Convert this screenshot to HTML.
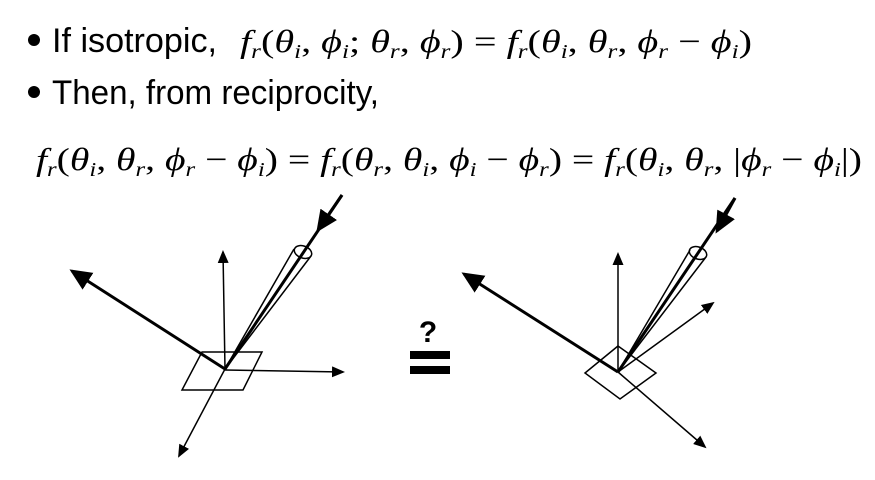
<!DOCTYPE html>
<html><head><meta charset="utf-8"><style>
html,body{margin:0;padding:0;background:#fff;width:875px;height:480px;overflow:hidden}
svg{display:block}
.t{font-family:"Liberation Sans",sans-serif;font-size:34px;fill:#000}
.m{font-family:"Liberation Serif",serif;font-style:italic;font-size:32px;fill:#000}
.u{font-style:normal}
.s{font-size:20px}
</style></head><body>
<svg width="875" height="480" viewBox="0 0 875 480">
<defs>
<marker id="ah" markerWidth="13" markerHeight="11" refX="11" refY="5.5" orient="auto" markerUnits="userSpaceOnUse"><path d="M0,0 L13,5.5 L0,11 z" fill="#000"/></marker>
<marker id="ahb" markerWidth="22" markerHeight="20" refX="19" refY="10" orient="auto" markerUnits="userSpaceOnUse"><path d="M0,0 L22,10 L0,20 z" fill="#000"/></marker>
</defs>
<circle cx="34" cy="40" r="6" fill="#000"/>
<text class="t" x="52" y="52" textLength="165" lengthAdjust="spacingAndGlyphs">If isotropic,</text>
<text class="m" x="240" y="52" textLength="512" lengthAdjust="spacingAndGlyphs">f<tspan class="s" dy="6">r</tspan><tspan class="u" dy="-6">(</tspan>θ<tspan class="s" dy="6">i</tspan><tspan class="u" dy="-6">, </tspan>ϕ<tspan class="s" dy="6">i</tspan><tspan class="u" dy="-6">; </tspan>θ<tspan class="s" dy="6">r</tspan><tspan class="u" dy="-6">, </tspan>ϕ<tspan class="s" dy="6">r</tspan><tspan class="u" dy="-6">) = </tspan>f<tspan class="s" dy="6">r</tspan><tspan class="u" dy="-6">(</tspan>θ<tspan class="s" dy="6">i</tspan><tspan class="u" dy="-6">, </tspan>θ<tspan class="s" dy="6">r</tspan><tspan class="u" dy="-6">, </tspan>ϕ<tspan class="s" dy="6">r</tspan><tspan class="u" dy="-6"> − </tspan>ϕ<tspan class="s" dy="6">i</tspan><tspan class="u" dy="-6">)</tspan></text>
<circle cx="34" cy="92" r="6" fill="#000"/>
<text class="t" x="52" y="104" textLength="327" lengthAdjust="spacingAndGlyphs">Then, from reciprocity,</text>
<text class="m" x="36" y="170" textLength="826" lengthAdjust="spacingAndGlyphs">f<tspan class="s" dy="6">r</tspan><tspan class="u" dy="-6">(</tspan>θ<tspan class="s" dy="6">i</tspan><tspan class="u" dy="-6">, </tspan>θ<tspan class="s" dy="6">r</tspan><tspan class="u" dy="-6">, </tspan>ϕ<tspan class="s" dy="6">r</tspan><tspan class="u" dy="-6"> − </tspan>ϕ<tspan class="s" dy="6">i</tspan><tspan class="u" dy="-6">) = </tspan>f<tspan class="s" dy="6">r</tspan><tspan class="u" dy="-6">(</tspan>θ<tspan class="s" dy="6">r</tspan><tspan class="u" dy="-6">, </tspan>θ<tspan class="s" dy="6">i</tspan><tspan class="u" dy="-6">, </tspan>ϕ<tspan class="s" dy="6">i</tspan><tspan class="u" dy="-6"> − </tspan>ϕ<tspan class="s" dy="6">r</tspan><tspan class="u" dy="-6">) = </tspan>f<tspan class="s" dy="6">r</tspan><tspan class="u" dy="-6">(</tspan>θ<tspan class="s" dy="6">i</tspan><tspan class="u" dy="-6">, </tspan>θ<tspan class="s" dy="6">r</tspan><tspan class="u" dy="-6">, |</tspan>ϕ<tspan class="s" dy="6">r</tspan><tspan class="u" dy="-6"> − </tspan>ϕ<tspan class="s" dy="6">i</tspan><tspan class="u" dy="-6">|)</tspan></text>

<g stroke="#000" fill="none">
<polygon points="202,352 262,352 243,390 182,390" stroke-width="1.5"/>
<line x1="225" y1="369" x2="223" y2="252" stroke-width="1.5" marker-end="url(#ah)"/>
<line x1="225" y1="370" x2="343" y2="372" stroke-width="1.5" marker-end="url(#ah)"/>
<line x1="225" y1="369" x2="179" y2="456" stroke-width="1.5" marker-end="url(#ah)"/>
<line x1="225" y1="369" x2="72" y2="271" stroke-width="3" marker-end="url(#ahb)"/>
<line x1="342" y1="195" x2="225" y2="369" stroke-width="3"/>
<line x1="342" y1="195" x2="318" y2="230" stroke-width="3" marker-end="url(#ahb)"/>
<line x1="294" y1="249" x2="225" y2="369" stroke-width="1.5"/>
<line x1="311" y1="256" x2="225" y2="369" stroke-width="1.5"/>
<ellipse cx="303" cy="252" rx="9" ry="6" transform="rotate(20 303 252)" stroke-width="1.5"/>
</g>

<g>
<text x="428" y="342" text-anchor="middle" font-family="Liberation Sans,sans-serif" font-weight="bold" font-size="30" fill="#000">?</text>
<rect x="410" y="351" width="40" height="8" fill="#000"/>
<rect x="410" y="366" width="40" height="8" fill="#000"/>
</g>

<g stroke="#000" fill="none">
<polygon points="618,346 656,373 620,399 585,373" stroke-width="1.5"/>
<line x1="618" y1="372" x2="618" y2="254" stroke-width="1.5" marker-end="url(#ah)"/>
<line x1="618" y1="372" x2="713" y2="303" stroke-width="1.5" marker-end="url(#ah)"/>
<line x1="618" y1="372" x2="705" y2="447" stroke-width="1.5" marker-end="url(#ah)"/>
<line x1="618" y1="372" x2="464" y2="274" stroke-width="3" marker-end="url(#ahb)"/>
<line x1="735" y1="198" x2="618" y2="372" stroke-width="3"/>
<line x1="735" y1="198" x2="717" y2="231" stroke-width="3" marker-end="url(#ahb)"/>
<line x1="690" y1="250" x2="618" y2="372" stroke-width="1.5"/>
<line x1="706" y1="257" x2="618" y2="372" stroke-width="1.5"/>
<ellipse cx="698" cy="253" rx="9" ry="6" transform="rotate(20 698 253)" stroke-width="1.5"/>
</g>
</svg>
</body></html>
